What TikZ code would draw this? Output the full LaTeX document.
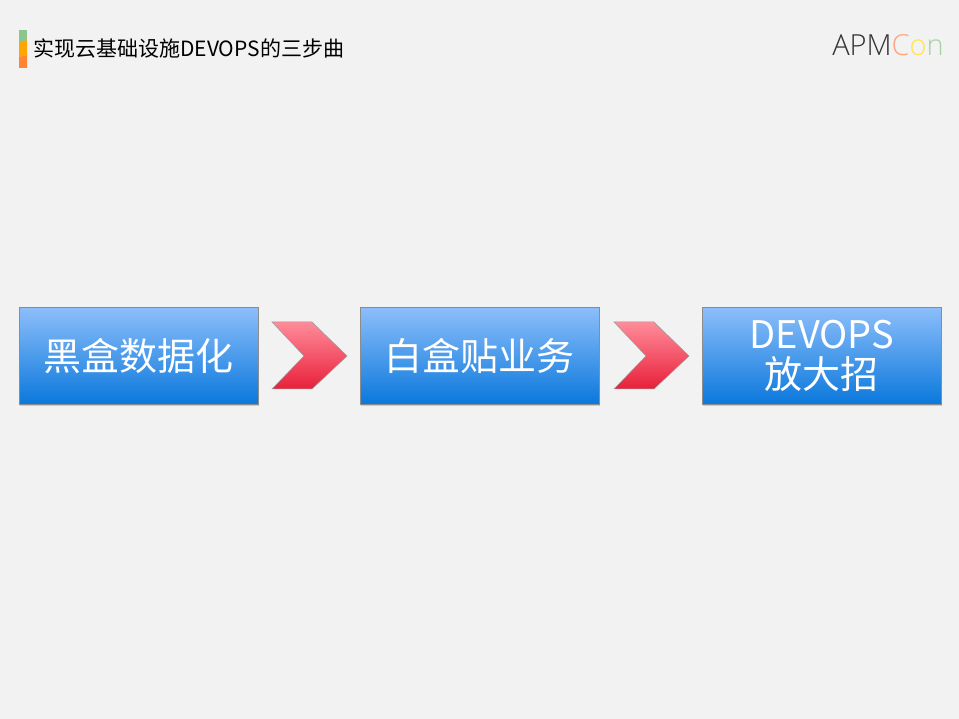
\documentclass[tikz,border=0pt]{standalone}
\usepackage{fontspec}
\setmainfont{Noto Sans CJK SC}
\newfontfamily\lgfont{Open Sans Light}
\usetikzlibrary{shadows}
\definecolor{bg}{HTML}{F2F2F2}
\definecolor{boxtop}{HTML}{8CBEFA}
\definecolor{boxbot}{HTML}{0A78DC}
\definecolor{arrtop}{HTML}{FF8C9A}
\definecolor{arrbot}{HTML}{E8203A}
\tikzset{
 stepbox/.style={draw=black!45,line width=0.6pt,top color=boxtop,bottom color=boxbot,minimum width=239pt,minimum height=97pt,anchor=north west,inner sep=0pt,text=white,font=\fontsize{38}{44}\selectfont,align=center,drop shadow={shadow xshift=1pt,shadow yshift=-1.5pt,opacity=0.35}},
 chev/.style={draw=black!40,line width=0.5pt,top color=arrtop,bottom color=arrbot}
}
\begin{document}
\begin{tikzpicture}[x=1pt,y=-1pt]
\fill[bg] (0,0) rectangle (959,719);
\useasboundingbox (0,0) rectangle (959,719);
\fill[green!40!gray!70!white,fill=green!50!black!45] (19,30) rectangle (27,43);
\fill[fill=orange!70!yellow] (19,43) -- (27,40) -- (27,55) -- (19,57) -- cycle;
\fill[fill=orange!80!red!80] (19,57) -- (27,55) -- (27,68) -- (19,68) -- cycle;
\node[anchor=west,inner sep=0pt,font=\fontsize{21}{24}\selectfont] (title) at (33,48) {实现云基础设施DEVOPS的三步曲};
\node[anchor=east,inner sep=0pt,font=\lgfont\fontsize{29}{30}\selectfont] (logo) at (944,45) {\textcolor{black!80}{APM}\textcolor{orange!60!red!50}{C}\textcolor{yellow!80!orange!70}{o}\textcolor{green!50!black!35}{n}};
\node[stepbox] (b1) at (19,307) {黑盒数据化};
\node[stepbox] (b2) at (360,307) {白盒贴业务};
\node[stepbox] (b3) at (702,307) {DEVOPS\\[-4pt]放大招};
\foreach \x/\n in {272/c1,614/c2}{
 \draw[chev] (\x,322) -- (\x+40,322) -- (\x+75,356) -- (\x+40,389) -- (\x,389) -- (\x+32,356) -- cycle;
}
\end{tikzpicture}
\end{document}
